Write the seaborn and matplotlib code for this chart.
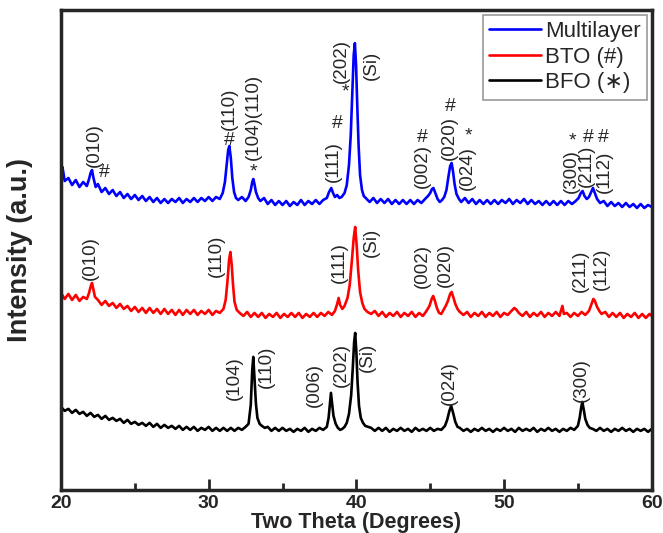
import pandas as pd
import seaborn as sns
import matplotlib.pyplot as plt

# XRD patterns (two theta in degrees, intensity in a.u., curves already offset)
bfo_pts = [
    (20.0, 83), (20.25, 79), (20.5, 81), (20.75, 77), (21.0, 80), (21.25, 76), (21.5, 78), (21.75, 74),
    (22.0, 77), (22.25, 73), (22.5, 75), (22.75, 71), (23.0, 74), (23.25, 70), (23.5, 72), (23.75, 69),
    (24.0, 71), (24.25, 67), (24.5, 70), (24.75, 66), (25.0, 68), (25.25, 65), (25.5, 67), (25.75, 64),
    (26.0, 67), (26.25, 63), (26.5, 66), (26.75, 62), (27.0, 65), (27.25, 62), (27.5, 64), (27.75, 61),
    (28.0, 64), (28.25, 60), (28.5, 63), (28.75, 60), (29.0, 63), (29.25, 59), (29.5, 62), (29.75, 60),
    (30.0, 63), (30.25, 59), (30.5, 62), (30.75, 59), (31.0, 62), (31.25, 59), (31.5, 62), (31.75, 59),
    (32.0, 62), (32.25, 60), (32.5, 63), (32.7, 66), (32.85, 85), (32.95, 120), (33.02, 133), (33.1, 112),
    (33.2, 86), (33.3, 72), (33.45, 66), (33.6, 64), (33.8, 62), (34.0, 63), (34.25, 59), (34.5, 62),
    (34.75, 59), (35.0, 62), (35.25, 59), (35.5, 61), (35.75, 58), (36.0, 61), (36.25, 59), (36.5, 62),
    (36.75, 58), (37.0, 61), (37.25, 59), (37.5, 62), (37.75, 60), (38.0, 63), (38.12, 72), (38.2, 84),
    (38.28, 97), (38.36, 86), (38.45, 74), (38.6, 66), (38.75, 62), (38.9, 60), (39.05, 61), (39.2, 63),
    (39.35, 67), (39.5, 76), (39.65, 95), (39.75, 120), (39.85, 148), (39.92, 157), (40.0, 138), (40.08, 108),
    (40.18, 84), (40.3, 72), (40.45, 67), (40.6, 64), (40.8, 63), (41.0, 62), (41.25, 59), (41.5, 62),
    (41.75, 59), (42.0, 62), (42.25, 58), (42.5, 61), (42.75, 59), (43.0, 62), (43.25, 59), (43.5, 61),
    (43.75, 58), (44.0, 62), (44.25, 59), (44.5, 61), (44.75, 59), (45.0, 62), (45.25, 59), (45.5, 61),
    (45.75, 60), (46.0, 64), (46.15, 70), (46.3, 79), (46.42, 84), (46.55, 77), (46.7, 68), (46.85, 63),
    (47.0, 62), (47.25, 59), (47.5, 61), (47.75, 58), (48.0, 61), (48.25, 59), (48.5, 62), (48.75, 59),
    (49.0, 61), (49.25, 58), (49.5, 61), (49.75, 59), (50.0, 62), (50.25, 59), (50.5, 61), (50.75, 58),
    (51.0, 62), (51.25, 59), (51.5, 61), (51.75, 59), (52.0, 62), (52.25, 58), (52.5, 61), (52.75, 59),
    (53.0, 62), (53.25, 59), (53.5, 61), (53.75, 58), (54.0, 61), (54.25, 59), (54.5, 62), (54.75, 60),
    (55.0, 64), (55.12, 72), (55.22, 82), (55.3, 88), (55.4, 80), (55.5, 71), (55.65, 65), (55.8, 62),
    (56.0, 61), (56.25, 59), (56.5, 62), (56.75, 59), (57.0, 61), (57.25, 58), (57.5, 61), (57.75, 59),
    (58.0, 62), (58.25, 59), (58.5, 61), (58.75, 58), (59.0, 61), (59.25, 59), (59.5, 61), (59.75, 58),
    (60.0, 61),
]

bto_pts = [
    (20.0, 197), (20.25, 191), (20.5, 196), (20.75, 190), (21.0, 195), (21.25, 189), (21.5, 193), (21.75, 191),
    (21.9, 197), (22.0, 203), (22.1, 207), (22.2, 200), (22.3, 193), (22.5, 190), (22.75, 185), (23.0, 189),
    (23.25, 184), (23.5, 187), (23.75, 182), (24.0, 186), (24.25, 181), (24.5, 184), (24.75, 179), (25.0, 183),
    (25.25, 178), (25.5, 182), (25.75, 177), (26.0, 182), (26.25, 177), (26.5, 181), (26.75, 176), (27.0, 181),
    (27.25, 176), (27.5, 180), (27.75, 175), (28.0, 180), (28.25, 175), (28.5, 180), (28.75, 176), (29.0, 180),
    (29.25, 175), (29.5, 179), (29.75, 176), (30.0, 180), (30.25, 175), (30.5, 179), (30.75, 177), (31.0, 181),
    (31.15, 190), (31.28, 210), (31.38, 230), (31.47, 238), (31.56, 225), (31.65, 205), (31.75, 188), (31.9, 180),
    (32.1, 177), (32.35, 174), (32.6, 178), (32.85, 173), (33.1, 177), (33.35, 173), (33.6, 177), (33.85, 172),
    (34.1, 176), (34.35, 173), (34.6, 177), (34.85, 172), (35.1, 176), (35.35, 173), (35.6, 177), (35.85, 173),
    (36.1, 177), (36.35, 172), (36.6, 176), (36.85, 173), (37.1, 177), (37.35, 173), (37.6, 177), (37.85, 174),
    (38.1, 178), (38.35, 175), (38.55, 179), (38.7, 186), (38.8, 192), (38.9, 185), (39.05, 181), (39.2, 184),
    (39.4, 192), (39.55, 205), (39.7, 230), (39.82, 252), (39.92, 263), (40.02, 245), (40.12, 220), (40.25, 198),
    (40.4, 187), (40.55, 181), (40.75, 178), (41.0, 176), (41.25, 179), (41.5, 174), (41.75, 178), (42.0, 173),
    (42.25, 177), (42.5, 174), (42.75, 178), (43.0, 173), (43.25, 177), (43.5, 174), (43.75, 178), (44.0, 173),
    (44.25, 177), (44.5, 174), (44.75, 179), (44.95, 184), (45.1, 191), (45.2, 194), (45.32, 189), (45.45, 182),
    (45.6, 177), (45.75, 176), (45.9, 180), (46.05, 184), (46.2, 189), (46.35, 196), (46.45, 198), (46.58, 192),
    (46.7, 186), (46.85, 181), (47.0, 178), (47.25, 175), (47.5, 178), (47.75, 173), (48.0, 177), (48.25, 174),
    (48.5, 178), (48.75, 173), (49.0, 177), (49.25, 174), (49.5, 178), (49.75, 173), (50.0, 177), (50.25, 175),
    (50.5, 179), (50.7, 182), (50.85, 180), (51.0, 177), (51.25, 174), (51.5, 178), (51.75, 173), (52.0, 177),
    (52.25, 174), (52.5, 178), (52.75, 173), (53.0, 177), (53.25, 174), (53.5, 178), (53.75, 174), (53.95, 184),
    (54.05, 176), (54.25, 177), (54.5, 173), (54.75, 177), (55.0, 174), (55.25, 178), (55.5, 175), (55.75, 179),
    (55.9, 185), (56.05, 191), (56.15, 189), (56.3, 183), (56.45, 179), (56.6, 176), (56.85, 178), (57.1, 173),
    (57.35, 177), (57.6, 173), (57.85, 177), (58.1, 172), (58.35, 176), (58.6, 173), (58.85, 177), (59.1, 172),
    (59.35, 176), (59.6, 172), (59.85, 176), (60.0, 174),
]

multi_pts = [
    (20.0, 318), (20.1, 323), (20.25, 309), (20.5, 312), (20.75, 305), (21.0, 310), (21.25, 303), (21.5, 308),
    (21.75, 304), (21.9, 311), (22.0, 317), (22.1, 320), (22.2, 312), (22.35, 303), (22.5, 306), (22.75, 298),
    (23.0, 302), (23.25, 296), (23.5, 300), (23.75, 294), (24.0, 298), (24.25, 292), (24.5, 296), (24.75, 291),
    (25.0, 295), (25.25, 290), (25.5, 294), (25.75, 289), (26.0, 293), (26.25, 288), (26.5, 292), (26.75, 287),
    (27.0, 291), (27.25, 287), (27.5, 291), (27.75, 288), (28.0, 292), (28.25, 287), (28.5, 291), (28.75, 288),
    (29.0, 292), (29.25, 288), (29.5, 292), (29.75, 289), (30.0, 293), (30.25, 289), (30.5, 293), (30.75, 291),
    (30.95, 297), (31.1, 308), (31.22, 325), (31.32, 340), (31.4, 344), (31.5, 332), (31.6, 312), (31.72, 298),
    (31.85, 292), (32.0, 290), (32.25, 293), (32.5, 289), (32.7, 293), (32.85, 300), (32.95, 308), (33.02, 311),
    (33.1, 306), (33.2, 298), (33.35, 292), (33.5, 289), (33.75, 292), (34.0, 286), (34.25, 290), (34.5, 285),
    (34.75, 289), (35.0, 285), (35.25, 289), (35.5, 284), (35.75, 288), (36.0, 285), (36.25, 290), (36.5, 285),
    (36.75, 289), (37.0, 286), (37.25, 290), (37.5, 286), (37.75, 290), (38.0, 292), (38.15, 298), (38.3, 302),
    (38.42, 297), (38.55, 293), (38.7, 295), (38.85, 292), (39.0, 293), (39.2, 297), (39.35, 305), (39.5, 325),
    (39.62, 355), (39.72, 395), (39.82, 435), (39.9, 447), (39.98, 425), (40.06, 385), (40.15, 345), (40.25, 315),
    (40.38, 300), (40.5, 294), (40.7, 291), (40.9, 288), (41.15, 292), (41.4, 287), (41.65, 291), (41.9, 287),
    (42.15, 291), (42.4, 286), (42.65, 290), (42.9, 286), (43.15, 290), (43.4, 286), (43.65, 290), (43.9, 286),
    (44.15, 290), (44.4, 287), (44.65, 291), (44.85, 294), (45.0, 297), (45.12, 301), (45.22, 302), (45.35, 297),
    (45.5, 291), (45.65, 288), (45.8, 290), (45.95, 293), (46.1, 300), (46.22, 312), (46.35, 324), (46.45, 327),
    (46.55, 318), (46.65, 306), (46.78, 296), (46.95, 291), (47.1, 288), (47.35, 292), (47.6, 287), (47.85, 291),
    (48.1, 286), (48.35, 290), (48.6, 286), (48.85, 290), (49.1, 286), (49.35, 290), (49.6, 286), (49.85, 290),
    (50.1, 287), (50.35, 291), (50.6, 286), (50.85, 290), (51.1, 287), (51.35, 291), (51.6, 286), (51.85, 290),
    (52.1, 286), (52.35, 289), (52.6, 285), (52.85, 289), (53.1, 285), (53.35, 289), (53.6, 285), (53.85, 289),
    (54.1, 285), (54.35, 289), (54.6, 286), (54.85, 289), (55.05, 292), (55.2, 297), (55.32, 299), (55.45, 294),
    (55.6, 291), (55.75, 293), (55.9, 298), (56.02, 302), (56.15, 297), (56.3, 291), (56.5, 287), (56.75, 289),
    (57.0, 284), (57.25, 288), (57.5, 284), (57.75, 287), (58.0, 283), (58.25, 287), (58.5, 283), (58.75, 286),
    (59.0, 282), (59.25, 286), (59.5, 282), (59.75, 285), (60.0, 283),
]

# peak labels (rotated): (text, two theta, intensity at the base of the label)
multi_labels = [
    ("(010)", 22.23, 323), ("(110)", 31.37, 360), ("(104)(110)", 33.06, 330),
    ("(111)", 38.47, 308), ("(202)", 39.01, 407), ("(Si)", 41.04, 410),
    ("(002)", 44.49, 302), ("(020)", 46.32, 330), ("(024)", 47.54, 300),
    ("(300)", 54.57, 297), ("(211)", 55.59, 303), ("(112)", 56.81, 297),
]
bto_labels = [
    ("(010)", 21.96, 210), ("(110)", 30.55, 213), ("(111)", 38.88, 207), ("(Si)", 41.04, 233),
    ("(002)", 44.49, 202), ("(020)", 46.05, 203), ("(211)", 55.18, 198), ("(112)", 56.6, 200),
]
bfo_labels = [
    ("(104)", 31.77, 90), ("(110)", 33.94, 102), ("(006)", 37.19, 83), ("(202)", 39.01, 103),
    ("(Si)", 40.77, 118), ("(024)", 46.32, 85), ("(300)", 55.25, 88),
]
# phase markers on the multilayer pattern: # = BTO, * = BFO
marks = [
    ("#", 22.95, 318), ("#", 31.37, 350), ("*", 33.06, 318), ("#", 38.74, 367),
    ("*", 39.28, 398), ("#", 44.49, 353), ("#", 46.39, 384), ("*", 47.6, 354),
    ("*", 54.64, 349), ("#", 55.72, 353), ("#", 56.75, 353),
]

series = [
    ("Multilayer", multi_pts, "#0000ff"),
    ("BTO (#)", bto_pts, "#ff0000"),
    ("BFO (\u2217)", bfo_pts, "#000000"),
]

sns.set_style("ticks")
plt.rcParams['font.family'] = ['Liberation Sans', 'DejaVu Sans']

fig, ax = plt.subplots(figsize=(6.63, 5.33), dpi=100)
fig.subplots_adjust(left=0.092, right=0.983, bottom=0.081, top=0.981)

for name, pts, col in series:
    df = pd.DataFrame(pts, columns=["two_theta", "intensity"])
    sns.lineplot(data=df, x="two_theta", y="intensity", color=col, lw=1.9,
                 sort=False, estimator=None, label=name, ax=ax)

for labels in (multi_labels, bto_labels, bfo_labels):
    for txt, x, y in labels:
        ax.text(x, y, txt, rotation=90, ha="center", va="bottom", fontsize=13.5)
for txt, x, y in marks:
    ax.text(x, y, txt, ha="center", va="center", fontsize=14)

ax.set_xlim(20, 60)
ax.set_ylim(0, 480)
ax.set_xticks([20, 30, 40, 50, 60])
ax.set_xticks([25, 35, 45, 55], minor=True)
ax.set_yticks([])
ax.tick_params(axis="x", which="major", direction="in", length=8, width=2, pad=4,
               labelsize=14)
ax.tick_params(axis="x", which="minor", direction="in", length=5, width=2)
for lab in ax.get_xticklabels():
    lab.set_fontweight("bold")
for sp in ax.spines.values():
    sp.set_visible(True)
    sp.set_linewidth(2.5)

ax.set_xlabel("Two Theta (Degrees)", fontsize=15.5, fontweight="bold", labelpad=0)
ax.set_ylabel("Intensity (a.u.)", fontsize=19.5, fontweight="bold", labelpad=20)

leg = ax.legend(loc="upper right", fontsize=16, frameon=True, fancybox=False,
                edgecolor="#808080", handlelength=2.3, borderaxespad=0.2,
                labelspacing=0.2, handletextpad=0.2, borderpad=0.3)
leg.get_frame().set_linewidth(1.2)

plt.savefig("out.png", dpi=100)
